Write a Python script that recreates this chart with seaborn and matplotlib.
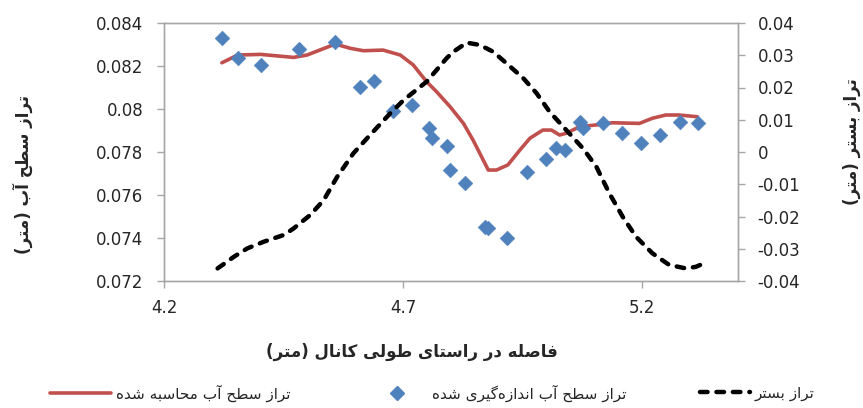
import matplotlib
matplotlib.use("Agg")
import matplotlib.pyplot as plt
import seaborn as sns
import pandas as pd
from matplotlib.lines import Line2D

# ---------------------------------------------------------------------------
# Data
# ---------------------------------------------------------------------------
# computed water surface (left axis, m)
x_calc = [4.321, 4.354, 4.402, 4.471, 4.499, 4.558, 4.590, 4.617, 4.658, 4.694,
          4.721, 4.749, 4.770, 4.798, 4.826, 4.846, 4.878, 4.895, 4.919, 4.944,
          4.965, 4.992, 5.010, 5.027, 5.041, 5.069, 5.104, 5.138, 5.194, 5.221,
          5.249, 5.277, 5.315]
wl_calc = [0.08215, 0.08251, 0.08254, 0.08240, 0.08251, 0.08302, 0.08282, 0.08271,
           0.08274, 0.08251, 0.08205, 0.08127, 0.08080, 0.08011, 0.07933, 0.07856,
           0.07716, 0.07716, 0.07740, 0.07809, 0.07864, 0.07902, 0.07902, 0.07879,
           0.07887, 0.07918, 0.07926, 0.07936, 0.07933, 0.07957, 0.07972, 0.07972,
           0.07964]

# measured water surface (left axis, m)
x_meas = [4.322, 4.355, 4.402, 4.482, 4.558, 4.609, 4.638, 4.679, 4.718, 4.753,
          4.760, 4.792, 4.797, 4.829, 4.871, 4.878, 4.918, 4.958, 4.998, 5.020,
          5.038, 5.070, 5.076, 5.117, 5.158, 5.197, 5.237, 5.279, 5.317]
wl_meas = [0.08329, 0.08236, 0.08205, 0.08278, 0.08310, 0.08104, 0.08130, 0.07992,
           0.08019, 0.07910, 0.07864, 0.07828, 0.07716, 0.07654, 0.07453, 0.07447,
           0.07399, 0.07708, 0.07766, 0.07817, 0.07809, 0.07941, 0.07910, 0.07936,
           0.07887, 0.07840, 0.07879, 0.07941, 0.07936]

# bed level (right axis, m)
x_bed = [4.312, 4.346, 4.374, 4.409, 4.451, 4.471, 4.506, 4.534, 4.562, 4.596,
         4.631, 4.673, 4.701, 4.749, 4.791, 4.805, 4.833, 4.860, 4.888, 4.916,
         4.951, 4.979, 5.006, 5.041, 5.076, 5.104, 5.131, 5.159, 5.187, 5.221,
         5.256, 5.291, 5.312, 5.329]
z_bed = [-0.0361, -0.0325, -0.0299, -0.0278, -0.0257, -0.0237, -0.0195, -0.0149,
         -0.0077, -0.0004, 0.0053, 0.0120, 0.0161, 0.0218, 0.0291, 0.0311, 0.0339,
         0.0332, 0.0311, 0.0275, 0.0229, 0.0182, 0.0125, 0.0068, 0.0011, -0.0046,
         -0.0128, -0.0201, -0.0263, -0.0314, -0.0350, -0.0361, -0.0356, -0.0345]

x_ticks = [4.2, 4.7, 5.2]
x_ticklabels = ["4.2", "4.7", "5.2"]
left_ticks = [0.072, 0.074, 0.076, 0.078, 0.080, 0.082, 0.084]
left_ticklabels = ["0.072", "0.074", "0.076", "0.078", "0.08", "0.082", "0.084"]
right_ticks = [-0.04, -0.03, -0.02, -0.01, 0.0, 0.01, 0.02, 0.03, 0.04]
right_ticklabels = ["-0.04", "-0.03", "-0.02", "-0.01", "0", "0.01", "0.02", "0.03", "0.04"]

label_x = "فاصله در راستای طولی کانال (متر)"
label_left = "تراز سطح آب (متر)"
label_right = "تراز بستر (متر)"
name_calc = "تراز سطح آب محاسبه شده"
name_meas = "تراز سطح آب اندازه\u200cگیری شده"
name_bed = "تراز بستر"

# ---------------------------------------------------------------------------
# Minimal Persian shaping (presentation forms + right-to-left order),
# since matplotlib lays glyphs out one by one.
# forms: isolated, final, initial, medial
# ---------------------------------------------------------------------------
FORMS = {
    "\u0628": "\uFE8F\uFE90\uFE91\uFE92",  # beh
    "\u062A": "\uFE95\uFE96\uFE97\uFE98",  # teh
    "\u062D": "\uFEA1\uFEA2\uFEA3\uFEA4",  # hah
    "\u0633": "\uFEB1\uFEB2\uFEB3\uFEB4",  # seen
    "\u0634": "\uFEB5\uFEB6\uFEB7\uFEB8",  # sheen
    "\u0635": "\uFEB9\uFEBA\uFEBB\uFEBC",  # sad
    "\u0637": "\uFEC1\uFEC2\uFEC3\uFEC4",  # tah
    "\u0641": "\uFED1\uFED2\uFED3\uFED4",  # feh
    "\u06A9": "\uFB8E\uFB8F\uFB90\uFB91",  # keheh
    "\u06AF": "\uFB92\uFB93\uFB94\uFB95",  # gaf
    "\u0644": "\uFEDD\uFEDE\uFEDF\uFEE0",  # lam
    "\u0645": "\uFEE1\uFEE2\uFEE3\uFEE4",  # meem
    "\u0646": "\uFEE5\uFEE6\uFEE7\uFEE8",  # noon
    "\u0647": "\uFEE9\uFEEA\uFEEB\uFEEC",  # heh
    "\u06CC": "\uFBFC\uFBFD\uFBFE\uFBFF",  # farsi yeh
    "\u0627": "\uFE8D\uFE8E",              # alef
    "\u0622": "\uFE81\uFE82",              # alef madda
    "\u062F": "\uFEA9\uFEAA",              # dal
    "\u0631": "\uFEAD\uFEAE",              # reh
    "\u0632": "\uFEAF\uFEB0",              # zain
    "\u0648": "\uFEED\uFEEE",              # waw
}


def rtl(text):
    out = []
    for i, c in enumerate(text):
        if c not in FORMS:
            if c != "\u200c":
                out.append(c)
            continue
        prev = text[i - 1] if i > 0 else None
        nxt = text[i + 1] if i + 1 < len(text) else None
        join_prev = prev in FORMS and len(FORMS[prev]) == 4
        join_next = len(FORMS[c]) == 4 and nxt in FORMS
        if join_prev and join_next:
            out.append(FORMS[c][3])
        elif join_prev:
            out.append(FORMS[c][1])
        elif join_next:
            out.append(FORMS[c][2])
        else:
            out.append(FORMS[c][0])
    visual = "".join(reversed(out))
    return visual.translate(str.maketrans("()", ")("))


# ---------------------------------------------------------------------------
# Figure
# ---------------------------------------------------------------------------
sns.set_style("white")
plt.rcParams["font.family"] = ["DejaVu Sans"]

RED = "#C0504D"
BLUE = "#4F81BD"
GREY = "#A6A6A6"
TXT = "#262626"

W, H = 863, 408
fig = plt.figure(figsize=(W / 100, H / 100), dpi=100)
ax = fig.add_axes([164 / W, 1 - 281 / H, (738 - 164) / W, (281 - 23) / H])
ax2 = ax.twinx()

df_calc = pd.DataFrame({"x": x_calc, "y": wl_calc})
df_meas = pd.DataFrame({"x": x_meas, "y": wl_meas})
df_bed = pd.DataFrame({"x": x_bed, "z": z_bed})

sns.lineplot(data=df_calc, x="x", y="y", ax=ax, color=RED, linewidth=2.6,
             sort=False, estimator=None, zorder=2)
sns.scatterplot(data=df_meas, x="x", y="y", ax=ax, marker="D", s=56,
                color=BLUE, edgecolor=BLUE, linewidth=0.4, zorder=3)
bed_line = sns.lineplot(data=df_bed, x="x", y="z", ax=ax2, color="black",
                        linewidth=3.2, sort=False, estimator=None)
for ln in ax2.lines:
    ln.set_dashes((1.7, 2.0))
    ln.set_dash_capstyle("round")

ax.set_xlim(4.2, 5.4)
ax.set_ylim(0.072, 0.084)
ax2.set_ylim(-0.04, 0.04)

ax.set_xticks(x_ticks, x_ticklabels)
ax.set_yticks(left_ticks, left_ticklabels)
ax2.set_yticks(right_ticks, right_ticklabels)
ax.set_xlabel("")
ax.set_ylabel("")
ax2.set_ylabel("")

for a in (ax, ax2):
    for sp in a.spines.values():
        sp.set_color(GREY)
        sp.set_linewidth(1.0)
        sp.set_visible(True)
    a.grid(False)

ax.tick_params(axis="y", direction="out", length=5, width=1, color=GREY,
               labelsize=12, labelcolor=TXT, pad=10, left=True)
ax.tick_params(axis="x", direction="out", length=5, width=1, color=GREY,
               labelsize=12, labelcolor=TXT, pad=8, bottom=True)
ax2.tick_params(axis="y", direction="out", length=5, width=1, color=GREY,
                labelsize=12, labelcolor=TXT, pad=9, right=True)

# axis titles
fig.text(412 / W, 1 - 352 / H, rtl(label_x), ha="center", va="center",
         fontsize=12, fontweight="bold", color=TXT)
fig.text(23 / W, 1 - 174 / H, rtl(label_left), ha="center", va="center",
         rotation=90, fontsize=12, fontweight="bold", color=TXT)
fig.text(852 / W, 1 - 142 / H, rtl(label_right), ha="center", va="center",
         rotation=90, fontsize=12, fontweight="bold", color=TXT)

# legend along the bottom
h_calc = Line2D([], [], color=RED, linewidth=2.6)
h_meas = Line2D([], [], color=BLUE, marker="D", markersize=7, linestyle="none")
h_bed = Line2D([], [], color="black", linewidth=3.2, dashes=(1.7, 2.0),
               dash_capstyle="round")
leg_y = 1 - 393 / H
for handle, name, x0, hl in ((h_calc, name_calc, 50, 4.0),
                             (h_meas, name_meas, 366, 4.0),
                             (h_bed, name_bed, 700, 3.3)):
    fig.legend(handles=[handle], labels=[rtl(name)], loc="center left",
               bbox_to_anchor=(x0 / W, leg_y), frameon=False, fontsize=11,
               borderaxespad=0, borderpad=0, handlelength=hl,
               handletextpad=0.3, labelcolor=TXT)

fig.savefig("out.png", dpi=100)
